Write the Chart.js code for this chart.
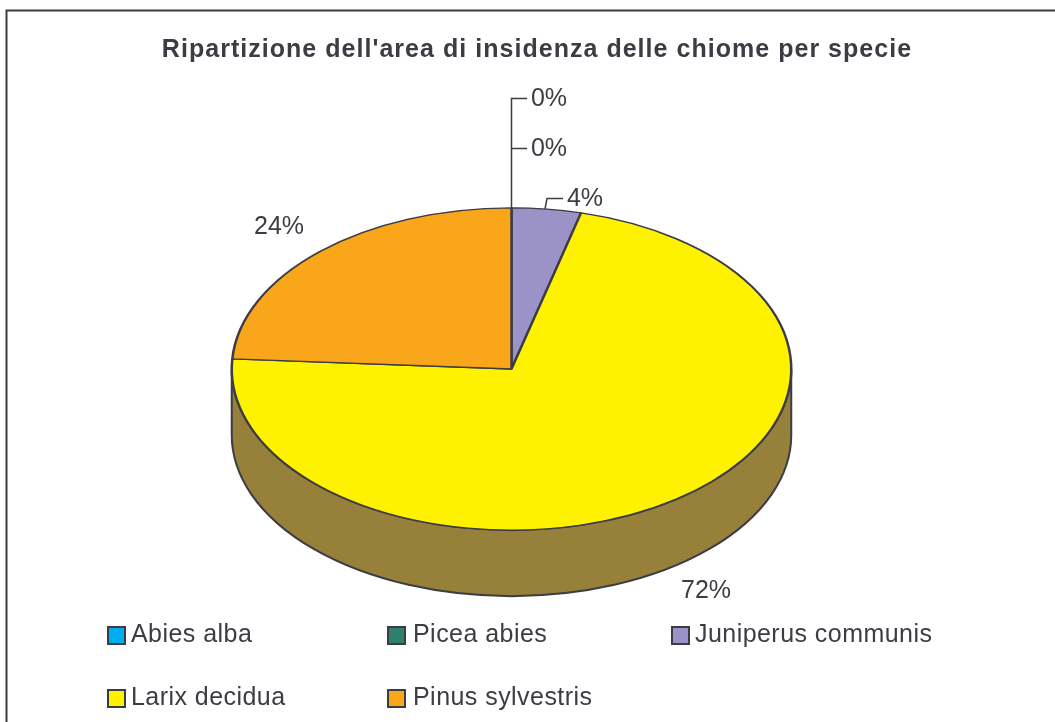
<!DOCTYPE html>
<html>
<head>
<meta charset="utf-8">
<style>
  html, body { margin: 0; padding: 0; background: #fff; overflow: hidden; }
  canvas { display: block; }
</style>
</head>
<body>
<canvas id="pieChart" width="1055" height="722"></canvas>
<script src="https://cdn.jsdelivr.net/npm/chart.js@4"></script>
<script>
const titleText = "Ripartizione dell'area di insidenza delle chiome per specie";
const species = ["Abies alba", "Picea abies", "Juniperus communis", "Larix decidua", "Pinus sylvestris"];
const shares = [0, 0, 4, 72, 24];
const sliceColors = ["#00aeef", "#2f7f6e", "#9b92c7", "#fff200", "#faa61a"];
const wallColors = ["#00607f", "#1a4a40", "#5c5678", "#978039", "#96640f"];

const ink = "#3c3c44";
const fontFamily = "'Liberation Sans', Arial, sans-serif";

// the 3D look: circle gets squashed to this ellipse, with a wall below it
const pie = { x: 511.5, y: 369, squash: 161 / 279.5, depth: 66 };

// legend cells, same order as species
const legendCells = [
  { box: 108, text: 131, row: 627 },
  { box: 388, text: 413, row: 627 },
  { box: 672, text: 695, row: 627 },
  { box: 108, text: 131, row: 690 },
  { box: 388, text: 413, row: 690 },
];

function squashContext(ctx, el) {
  ctx.translate(pie.x, pie.y);
  ctx.scale(1, pie.squash);
  ctx.translate(-el.x, -el.y);
}

const pie3d = {
  id: "pie3d",
  beforeDraw(chart) {
    // the title is spaced out in the original
    chart.ctx.letterSpacing = "1.03px";
  },
  beforeDatasetDraw(chart) {
    const { ctx } = chart;
    ctx.letterSpacing = "0px";
    const arcs = chart.getDatasetMeta(0).data;
    // wall first, only the part of each slice that faces the viewer
    arcs.forEach((el, i) => {
      const from = Math.max(el.startAngle, 0);
      const to = Math.min(el.endAngle, Math.PI);
      if (shares[i] === 0 || to <= from) return;
      const rx = el.outerRadius;
      const ry = rx * pie.squash;
      ctx.save();
      ctx.beginPath();
      ctx.ellipse(pie.x, pie.y, rx, ry, 0, from, to);
      ctx.ellipse(pie.x, pie.y + pie.depth, rx, ry, 0, to, from, true);
      ctx.closePath();
      ctx.fillStyle = wallColors[i];
      ctx.fill();
      ctx.strokeStyle = ink;
      ctx.lineWidth = 2;
      ctx.stroke();
      ctx.restore();
    });
    ctx.save();
    squashContext(ctx, arcs[0]);
  },
  afterDatasetDraw(chart) {
    chart.ctx.restore();
  },
  afterDraw(chart) {
    const { ctx } = chart;
    ctx.save();

    // frame, only left and top show in the picture
    ctx.strokeStyle = ink;
    ctx.lineWidth = 2;
    ctx.beginPath();
    ctx.moveTo(6.5, 722);
    ctx.lineTo(6.5, 10.5);
    ctx.lineTo(1055, 10.5);
    ctx.stroke();

    // leader lines of the small slices
    ctx.lineWidth = 1.5;
    ctx.beginPath();
    ctx.moveTo(pie.x, 208);
    ctx.lineTo(pie.x, 98.5);
    ctx.lineTo(527, 98.5);
    ctx.moveTo(pie.x, 148.5);
    ctx.lineTo(527, 148.5);
    ctx.moveTo(545, 209);
    ctx.lineTo(547, 198.5);
    ctx.lineTo(563, 198.5);
    ctx.stroke();

    // percent labels
    ctx.fillStyle = ink;
    ctx.font = "25px " + fontFamily;
    ctx.textBaseline = "middle";
    ctx.textAlign = "center";
    const labelSpots = [[549, 99], [549, 149], [585, 199], [706, 591], [279, 227]];
    shares.forEach((v, i) => {
      ctx.fillText(v + "%", labelSpots[i][0], labelSpots[i][1]);
    });

    // legend
    ctx.textAlign = "left";
    ctx.textBaseline = "alphabetic";
    ctx.letterSpacing = "0.45px";
    species.forEach((name, i) => {
      const cell = legendCells[i];
      ctx.fillStyle = sliceColors[i];
      ctx.fillRect(cell.box, cell.row, 17, 17);
      ctx.strokeStyle = ink;
      ctx.lineWidth = 2;
      ctx.strokeRect(cell.box, cell.row, 17, 17);
      ctx.fillStyle = ink;
      ctx.fillText(name, cell.text, cell.row + 15);
    });
    ctx.restore();
  },
};

new Chart(document.getElementById("pieChart").getContext("2d"), {
  type: "pie",
  data: {
    labels: species,
    datasets: [
      {
        data: shares,
        backgroundColor: sliceColors,
        borderColor: ink,
        borderWidth: 2.5,
      },
    ],
  },
  options: {
    responsive: false,
    animation: false,
    layout: { padding: { left: 19, right: 0, top: 0, bottom: 70 } },
    plugins: {
      legend: { display: false },
      tooltip: { enabled: false },
      title: {
        display: true,
        text: titleText,
        color: ink,
        font: { family: fontFamily, size: 25, weight: "bold" },
        padding: { top: 35, bottom: 25 },
      },
    },
  },
  plugins: [pie3d],
});
</script>
</body>
</html>
